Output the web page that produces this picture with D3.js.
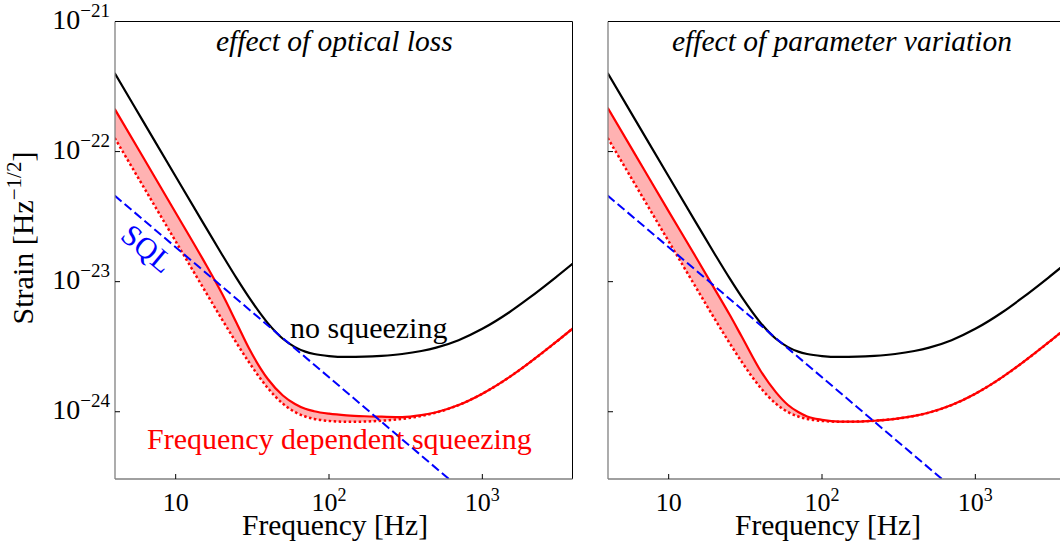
<!DOCTYPE html>
<html><head><meta charset="utf-8">
<script src="https://cdn.jsdelivr.net/npm/d3@7"></script>
<style>
body{margin:0;background:#fff;}
svg{display:block;}
text{font-family:"Liberation Serif","Times New Roman",serif;}
</style></head>
<body><svg id="c" width="1060" height="549"></svg>
<script>
// ---- data ----
const freq = [4,6,10,15,20,25,30,40,50,60,70,80,100,130,170,220,300,400,500,700,1000,1500,2000,3000,4000];
const noSqueezing = [4.018e-22,1.786e-22,6.43e-23,2.87e-23,1.626e-23,1.059e-23,7.60e-24,4.78e-24,3.64e-24,3.14e-24,2.90e-24,2.78e-24,2.68e-24,2.64e-24,2.65e-24,2.69e-24,2.78e-24,2.93e-24,3.11e-24,3.55e-24,4.34e-24,5.82e-24,7.43e-24,1.076e-23,1.416e-23];
const fdsIdeal = [1.274e-22,5.66e-23,2.04e-23,9.10e-24,5.15e-24,3.36e-24,2.41e-24,1.515e-24,1.154e-24,9.95e-25,9.19e-25,8.81e-25,8.50e-25,8.37e-25,8.40e-25,8.53e-25,8.81e-25,9.29e-25,9.86e-25,1.125e-24,1.376e-24,1.845e-24,2.355e-24,3.41e-24,4.49e-24];
const fdsLoss = [2.128e-22,9.46e-23,3.39e-23,1.496e-23,8.13e-24,4.79e-24,3.09e-24,1.778e-24,1.334e-24,1.148e-24,1.054e-24,1.009e-24,9.66e-25,9.38e-25,9.23e-25,9.16e-25,9.10e-25,9.42e-25,9.91e-25,1.125e-24,1.376e-24,1.845e-24,2.355e-24,3.41e-24,4.49e-24];
const fdsVariation = [2.168e-22,9.64e-23,3.47e-23,1.556e-23,8.73e-24,5.56e-24,3.77e-24,2.04e-24,1.416e-24,1.127e-24,9.95e-25,9.20e-25,8.67e-25,8.41e-25,8.40e-25,8.53e-25,8.81e-25,9.29e-25,9.86e-25,1.125e-24,1.376e-24,1.845e-24,2.355e-24,3.41e-24,4.49e-24];
const sqlFreq = [4,10,100,1000];
const sqlVals = [4.59e-23,1.84e-23,1.84e-24,1.84e-25];
const xTicks = [10,100,1000];
const xTickExp = [null,"2","3"];
const yTicks = [1e-21,1e-22,1e-23,1e-24];
const yTickExp = ["\u221221","\u221222","\u221223","\u221224"];
const titles = ["effect of optical loss","effect of parameter variation"];

// ---- layout ----
const svg = d3.select("#c");
const W = 457.5, yTop = 21.5, yBot = 479;
const panels = [
  {x0:115, title:titles[0], solid:fdsLoss, ylabels:true, titleX:216},
  {x0:608, title:titles[1], solid:fdsVariation, ylabels:false, titleX:672}
];
const y = d3.scaleLog().domain([Math.pow(10,-24.517),1e-21]).range([yBot,yTop]);

panels.forEach((p,i)=>{
  const x = d3.scaleLog().domain([4.02,3873]).range([p.x0,p.x0+W]);
  const g = svg.append("g");
  const cid = "clip"+i;
  svg.append("defs").append("clipPath").attr("id",cid)
    .append("rect").attr("x",p.x0).attr("y",yTop).attr("width",W).attr("height",yBot-yTop);
  const pg = g.append("g").attr("clip-path",`url(#${cid})`);
  const pts = (vals, fr)=> (fr||freq).map((f,k)=>[x(f), y(vals[k])]);
  const line = d3.line().curve(d3.curveMonotoneX);
  const area = d3.area().curve(d3.curveMonotoneX)
    .x((d,k)=>x(freq[k])).y0((d,k)=>y(fdsIdeal[k])).y1((d,k)=>y(p.solid[k]));
  pg.append("path").attr("d",area(freq)).attr("fill","#ff0000").attr("fill-opacity",0.3).attr("stroke","none");
  pg.append("path").attr("d",line(pts(fdsIdeal))).attr("fill","none").attr("stroke","#ff0000")
    .attr("stroke-width",2.5).attr("stroke-dasharray","2.5,2.5");
  pg.append("path").attr("d",line(pts(p.solid))).attr("fill","none").attr("stroke","#ff0000").attr("stroke-width",2.2);
  pg.append("path").attr("d",line(pts(noSqueezing))).attr("fill","none").attr("stroke","#000").attr("stroke-width",2.2);
  pg.append("path").attr("d",d3.line()(pts(sqlVals,sqlFreq))).attr("fill","none").attr("stroke","#0000ff")
    .attr("stroke-width",2).attr("stroke-dasharray","9,4");

  // spines
  g.append("line").attr("x1",p.x0).attr("x2",p.x0+W).attr("y1",yTop).attr("y2",yTop).attr("stroke","#000").attr("stroke-width",1);
  g.append("line").attr("x1",p.x0+W).attr("x2",p.x0+W).attr("y1",yTop).attr("y2",yBot).attr("stroke","#000").attr("stroke-width",1);
  g.append("line").attr("x1",p.x0).attr("x2",p.x0).attr("y1",yTop).attr("y2",yBot).attr("stroke","#808080").attr("stroke-width",1.3);
  g.append("line").attr("x1",p.x0).attr("x2",p.x0+W).attr("y1",yBot).attr("y2",yBot).attr("stroke","#808080").attr("stroke-width",1.3);

  // ticks (inward)
  xTicks.forEach((t,k)=>{
    const tx = x(t);
    g.append("line").attr("x1",tx).attr("x2",tx).attr("y1",yBot).attr("y2",yBot-5).attr("stroke","#000").attr("stroke-width",1);
    const tt = g.append("text").attr("x",tx).attr("y",511).attr("text-anchor","middle").attr("font-size",26).attr("fill","#000");
    tt.append("tspan").text("10");
    if (xTickExp[k]) tt.append("tspan").attr("dy",-10.5).attr("font-size",18).text(xTickExp[k]);
  });
  yTicks.forEach((t,k)=>{
    const ty = y(t);
    g.append("line").attr("x1",p.x0).attr("x2",p.x0+5).attr("y1",ty).attr("y2",ty).attr("stroke","#000").attr("stroke-width",1);
    if (p.ylabels){
      const tt = g.append("text").attr("x",p.x0-5).attr("y",ty+7).attr("text-anchor","end").attr("font-size",28).attr("fill","#000");
      tt.append("tspan").text("10");
      tt.append("tspan").attr("dy",-12).attr("font-size",19).text(yTickExp[k]);
    }
  });

  // titles & labels
  g.append("text").attr("x",p.titleX).attr("y",51).attr("font-size",29.5).attr("font-style","italic").attr("fill","#000").text(p.title);
  g.append("text").attr("x",p.x0+220).attr("y",535).attr("text-anchor","middle").attr("font-size",29.5).attr("fill","#000").text("Frequency [Hz]");
});

// y label
const yl = svg.append("text").attr("transform","translate(33,238) rotate(-90)").attr("text-anchor","middle")
  .attr("font-size",30).attr("fill","#000");
yl.append("tspan").text("Strain [Hz");
yl.append("tspan").attr("dy",-12).attr("font-size",21).text("\u22121/2");
yl.append("tspan").attr("dy",12).text("]");

// annotations (left panel)
svg.append("text").attr("x",290).attr("y",338).attr("font-size",30).attr("fill","#000").text("no squeezing");
svg.append("text").attr("x",147).attr("y",449).attr("font-size",30).attr("fill","#ff0000").text("Frequency dependent squeezing");
svg.append("text").attr("transform","translate(119,238) rotate(40)").attr("font-size",30).attr("fill","#0000ff")
  .text("SQL");
</script></body></html>
